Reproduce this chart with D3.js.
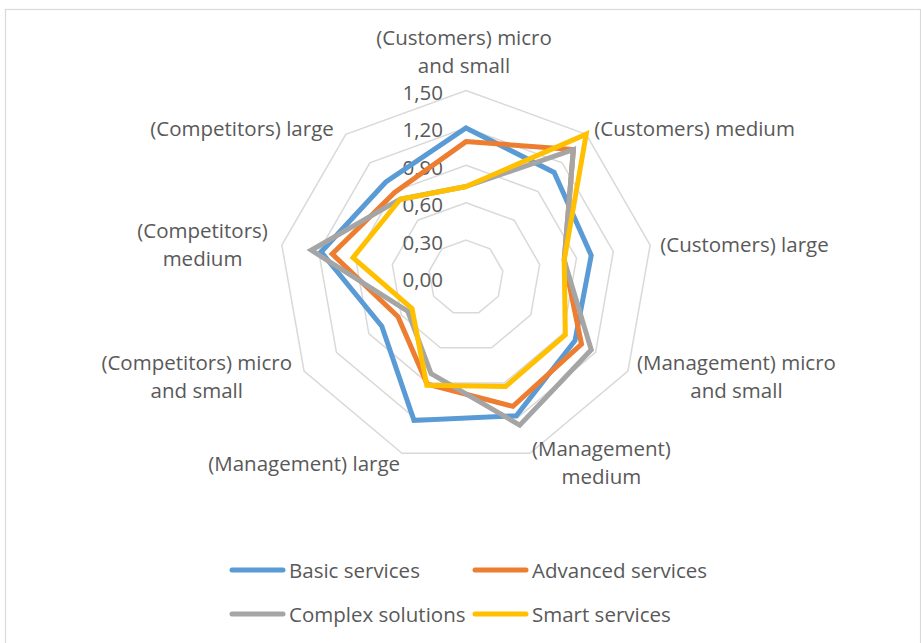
<!DOCTYPE html>
<html>
<head>
<meta charset="utf-8">
<script src="https://cdn.jsdelivr.net/npm/d3@7"></script>
<style>
  html, body { margin: 0; padding: 0; background: #fff; }
  svg { display: block; }
  text { font-family: "Open Sans", sans-serif; fill: #595959; }
</style>
</head>
<body>
<svg id="chart" width="921" height="643"></svg>
<script>
// ---- data ----
const categories = [
  "(Customers) micro and small",
  "(Customers) medium",
  "(Customers) large",
  "(Management) micro and small",
  "(Management) medium",
  "(Management) large",
  "(Competitors) micro and small",
  "(Competitors) medium",
  "(Competitors) large"
];
const categoryLines = [
  ["(Customers) micro", "and small"],
  ["(Customers) medium"],
  ["(Customers) large"],
  ["(Management) micro", "and small"],
  ["(Management)", "medium"],
  ["(Management) large"],
  ["(Competitors) micro", "and small"],
  ["(Competitors)", "medium"],
  ["(Competitors) large"]
];
const seriesNames = ["Basic services", "Advanced services", "Complex solutions", "Smart services"];
const basicServices    = [1.20, 1.10, 1.02, 1.01, 1.18, 1.22, 0.78, 1.18, 1.00];
const advancedServices = [1.09, 1.34, 0.80, 1.07, 1.10, 0.91, 0.63, 1.09, 0.89];
const complexSolutions = [0.73, 1.34, 0.80, 1.16, 1.26, 0.82, 0.54, 1.26, 0.82];
const smartServices    = [0.73, 1.50, 0.80, 0.92, 0.93, 0.92, 0.50, 0.92, 0.82];
const tickValues = [0, 0.30, 0.60, 0.90, 1.20, 1.50];
const tickLabels = ["0,00", "0,30", "0,60", "0,90", "1,20", "1,50"];
const seriesColors = ["#5B9BD5", "#ED7D31", "#A5A5A5", "#FFC000"];

// ---- layout ----
const svg = d3.select("#chart");
const cx = 466, cy = 277.5;
const rScale = d3.scaleLinear().domain([0, 1.5]).range([0, 187]);
const n = categories.length;
const angle = d3.scaleLinear().domain([0, n]).range([0, 2 * Math.PI]);
const pt = (i, v) => [cx + rScale(v) * Math.sin(angle(i)), cy - rScale(v) * Math.cos(angle(i))];

// border
svg.append("rect").attr("x", 5.5).attr("y", 9.5).attr("width", 915).attr("height", 700)
  .attr("fill", "none").attr("stroke", "#d9d9d9").attr("stroke-width", 1.2);

// grid rings
const ring = d3.line().curve(d3.curveLinearClosed);
tickValues.filter(v => v > 0).forEach(v => {
  svg.append("path")
    .attr("d", ring(d3.range(n).map(i => pt(i, v))))
    .attr("fill", "none").attr("stroke", "#d9d9d9").attr("stroke-width", 1.5);
});

// tick labels
svg.append("g").selectAll("text").data(tickValues).join("text")
  .attr("x", cx - 23)
  .attr("y", v => cy - rScale(v) + 1.5)
  .attr("text-anchor", "end")
  .attr("dominant-baseline", "central")
  .style("font-size", "20.5px")
  .text((v, i) => tickLabels[i]);

// series
const allSeries = [basicServices, advancedServices, complexSolutions, smartServices];
allSeries.forEach((vals, s) => {
  svg.append("path")
    .attr("d", ring(vals.map((v, i) => pt(i, v))))
    .attr("fill", "none")
    .attr("stroke", seriesColors[s])
    .attr("stroke-width", 5)
    .attr("stroke-linejoin", "miter")
    .attr("stroke-miterlimit", 10);
});

// category labels (layout adjustments per position)
const lineH = 28;
const lblAdj = [
  {dx: -2, dy: -39.5, anchor: "middle"},
  {dx: 8, dy: -6, anchor: "start"},
  {dx: 10, dy: -1, anchor: "start"},
  {dx: 9, dy: 5, anchor: "start"},
  {dx: 2, dy: 9, anchor: "start"},
  {dx: -2, dy: 10, anchor: "end"},
  {dx: -12, dy: 5, anchor: "end"},
  {dx: -14, dy: -1, anchor: "end"},
  {dx: -12, dy: -6, anchor: "end"}
];
categoryLines.forEach((lines, i) => {
  const [vx, vy] = pt(i, 1.5);
  const a = lblAdj[i];
  const g = svg.append("g");
  const t = g.append("text")
    .style("font-size", "20.5px")
    .attr("text-anchor", "middle")
    .attr("dominant-baseline", "central");
  lines.forEach((ln, k) => {
    t.append("tspan").attr("x", 0).attr("y", (k - (lines.length - 1) / 2) * lineH).text(ln);
  });
  const w = t.node().getBBox().width;
  let x = vx + a.dx;
  if (a.anchor === "start") x += w / 2;
  else if (a.anchor === "end") x -= w / 2;
  g.attr("transform", `translate(${x},${vy + a.dy})`);
});

// legend
const legendPos = [[230, 570], [473, 570], [230, 614], [473, 614]];
seriesNames.forEach((name, s) => {
  const [lx, ly] = legendPos[s];
  svg.append("line")
    .attr("x1", lx + 2).attr("x2", lx + 53).attr("y1", ly).attr("y2", ly)
    .attr("stroke", seriesColors[s]).attr("stroke-width", 5).attr("stroke-linecap", "round");
  svg.append("text")
    .attr("x", lx + 59).attr("y", ly)
    .attr("dominant-baseline", "central")
    .style("font-size", "20.5px")
    .text(name);
});
</script>
</body>
</html>
